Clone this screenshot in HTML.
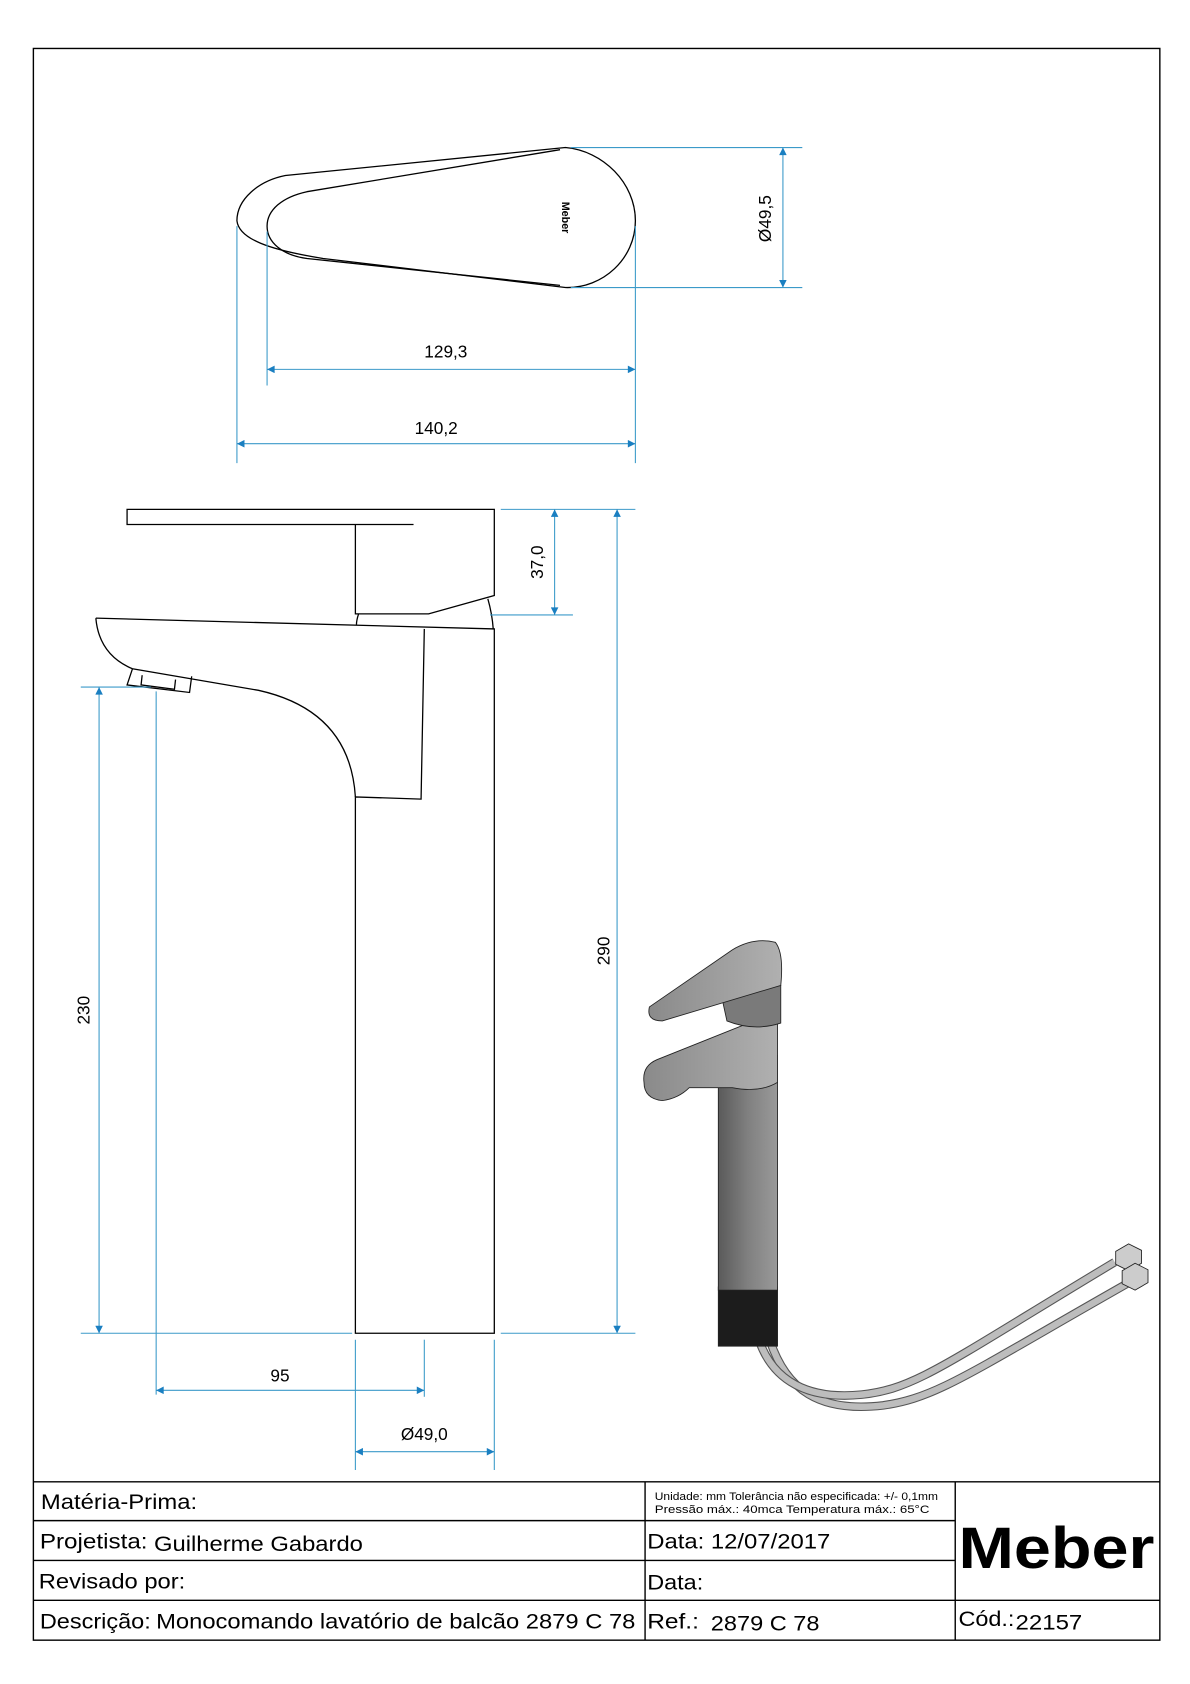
<!DOCTYPE html>
<html><head><meta charset="utf-8"><style>
html,body{margin:0;padding:0;background:#fff}
svg{display:block}
text{font-family:"Liberation Sans",Arial,sans-serif}
</style></head><body>
<svg width="1190" height="1684" viewBox="0 0 1105 1563.7" preserveAspectRatio="none" xmlns="http://www.w3.org/2000/svg">
<defs>
<marker id="a" viewBox="0 0 10 10" refX="10" refY="5" markerWidth="12" markerHeight="7" orient="auto-start-reverse" markerUnits="userSpaceOnUse"><path d="M0,0L10,5L0,10z" fill="#1a7fc1"/></marker>
<linearGradient id="g1" x1="0" x2="1"><stop offset="0" stop-color="#5a5a5a"/><stop offset=".5" stop-color="#808080"/><stop offset="1" stop-color="#9a9a9a"/></linearGradient>
<linearGradient id="g2" x1="0" x2="1"><stop offset="0" stop-color="#8a8a8a"/><stop offset="1" stop-color="#b0b0b0"/></linearGradient>
</defs>
<rect x="31" y="45" width="1046" height="1478" fill="none" stroke="#000" stroke-width="1.3"/>

<!-- top view handle -->
<g fill="none" stroke="#000" stroke-width="1.2">
<path d="M525,137 C560,140 590,170 590,205 C590,240 560,268 525,267 L300,240 C250,232 222,222 220,205 C220,185 240,168 265,163 Z"/>
<path d="M520,139 L285,178 C262,183 248,195 248,210 C248,225 262,237 285,240 L520,265"/>
</g>
<text x="522" y="202" font-size="10" font-weight="bold" transform="rotate(90 522 202)" text-anchor="middle">Meber</text>

<g stroke="#3b9ac9" stroke-width="1" fill="none">
<line x1="530" y1="137" x2="745" y2="137"/><line x1="530" y1="267" x2="745" y2="267"/>
<line x1="727" y1="137" x2="727" y2="267" marker-start="url(#a)" marker-end="url(#a)"/>
<line x1="248" y1="215" x2="248" y2="358"/><line x1="590" y1="210" x2="590" y2="430"/>
<line x1="220" y1="210" x2="220" y2="430"/>
<line x1="248" y1="343" x2="590" y2="343" marker-start="url(#a)" marker-end="url(#a)"/>
<line x1="220" y1="412" x2="590" y2="412" marker-start="url(#a)" marker-end="url(#a)"/>
</g>
<g font-size="16" fill="#000">
<text x="716" y="203" text-anchor="middle" transform="rotate(-90 716 203)">Ø49,5</text>
<text x="414" y="332" text-anchor="middle">129,3</text>
<text x="405" y="403" text-anchor="middle">140,2</text>
</g>

<!-- side view -->
<g fill="none" stroke="#000" stroke-width="1.2">
<path d="M384,487 L118,487 L118,473 L459,473 L459,553 L398,570 L330,570 L330,487"/>
<path d="M333,570 Q331,576 331,580"/><path d="M453,556 Q457,570 458,584"/>
<path d="M89,574 L459,584 L459,1238 L330,1238 L330,740 L391,742 L394,584"/>
<path d="M89,574 Q92,608 123,621 L240,641 Q325,660 330,740"/>
<path d="M123,621 L118,636 L176,643 L178,628"/>
<path d="M132,627 L131,636 L162,640 L163,631"/>
</g>
<g stroke="#3b9ac9" stroke-width="1" fill="none">
<line x1="465" y1="473" x2="590" y2="473"/><line x1="455" y1="571" x2="532" y2="571"/>
<line x1="515" y1="473" x2="515" y2="571" marker-start="url(#a)" marker-end="url(#a)"/>
<line x1="573" y1="473" x2="573" y2="1238" marker-start="url(#a)" marker-end="url(#a)"/>
<line x1="465" y1="1238" x2="590" y2="1238"/><line x1="75" y1="1238" x2="327" y2="1238"/>
<line x1="75" y1="638" x2="140" y2="638"/>
<line x1="92" y1="638" x2="92" y2="1238" marker-start="url(#a)" marker-end="url(#a)"/>
<line x1="145" y1="642" x2="145" y2="1295"/>
<line x1="394" y1="1244" x2="394" y2="1297"/>
<line x1="330" y1="1244" x2="330" y2="1365"/><line x1="459" y1="1244" x2="459" y2="1365"/>
<line x1="145" y1="1291" x2="394" y2="1291" marker-start="url(#a)" marker-end="url(#a)"/>
<line x1="330" y1="1348" x2="459" y2="1348" marker-start="url(#a)" marker-end="url(#a)"/>
</g>
<g font-size="16" fill="#000">
<text x="504" y="522" text-anchor="middle" transform="rotate(-90 504 522)">37,0</text>
<text x="566" y="883" text-anchor="middle" transform="rotate(-90 566 883)">290</text>
<text x="83" y="938" text-anchor="middle" transform="rotate(-90 83 938)">230</text>
<text x="260" y="1283" text-anchor="middle">95</text>
<text x="394" y="1337" text-anchor="middle">Ø49,0</text>
</g>

<!-- 3D render -->
<g stroke="#222" stroke-width="0.8">
<path d="M715,1245 C730,1290 760,1312 820,1305 C870,1298 900,1275 1050,1190" fill="none" stroke="#555" stroke-width="8"/>
<path d="M715,1245 C730,1290 760,1312 820,1305 C870,1298 900,1275 1050,1190" fill="none" stroke="#bdbdbd" stroke-width="6"/>
<path d="M705,1245 C718,1282 750,1300 800,1295 C850,1290 880,1265 1035,1172" fill="none" stroke="#555" stroke-width="8"/>
<path d="M705,1245 C718,1282 750,1300 800,1295 C850,1290 880,1265 1035,1172" fill="none" stroke="#bdbdbd" stroke-width="6"/>
<polygon points="1036,1162 1048,1155 1060,1161 1060,1173 1048,1180 1036,1174" fill="#ccc"/>
<polygon points="1042,1180 1054,1173 1066,1179 1066,1191 1054,1198 1042,1192" fill="#ccc"/>
<rect x="667" y="1195" width="55" height="55" fill="#1c1c1c"/>
<rect x="667" y="980" width="55" height="218" fill="url(#g1)"/>
<path d="M598,1005 Q596,990 610,984 L700,948 L722,950 L722,1005 Q705,1015 680,1010 L640,1010 Q630,1020 615,1022 Q598,1020 598,1005Z" fill="url(#g2)"/>
<path d="M670,925 L725,915 L725,950 Q700,958 675,948 Z" fill="#7a7a7a"/>
<path d="M603,935 L680,882 Q700,870 720,875 Q728,885 725,915 L615,948 Q600,948 603,935Z" fill="url(#g2)"/>
</g>

<!-- title block -->
<g stroke="#000" stroke-width="1.3" fill="none">
<line x1="31" y1="1376" x2="1077" y2="1376"/>
<line x1="31" y1="1412" x2="887" y2="1412"/>
<line x1="31" y1="1449" x2="887" y2="1449"/>
<line x1="31" y1="1486" x2="1077" y2="1486"/>
<line x1="599" y1="1376" x2="599" y2="1523"/>
<line x1="887" y1="1376" x2="887" y2="1523"/>
</g>
<g fill="#000" font-size="20">
<text x="38" y="1401" textLength="145" lengthAdjust="spacingAndGlyphs">Matéria-Prima:</text>
<text x="37" y="1438" textLength="100" lengthAdjust="spacingAndGlyphs">Projetista:</text>
<text x="143" y="1440" textLength="194" lengthAdjust="spacingAndGlyphs">Guilherme Gabardo</text>
<text x="36" y="1475" textLength="136" lengthAdjust="spacingAndGlyphs">Revisado por:</text>
<text x="37" y="1512" textLength="103" lengthAdjust="spacingAndGlyphs">Descrição:</text>
<text x="145" y="1512" textLength="445" lengthAdjust="spacingAndGlyphs">Monocomando lavatório de balcão 2879 C 78</text>
<text x="601" y="1438" textLength="170" lengthAdjust="spacingAndGlyphs">Data: 12/07/2017</text>
<text x="601" y="1476" textLength="52" lengthAdjust="spacingAndGlyphs">Data:</text>
<text x="601" y="1512" textLength="48" lengthAdjust="spacingAndGlyphs">Ref.:</text>
<text x="660" y="1514" textLength="101" lengthAdjust="spacingAndGlyphs">2879 C 78</text>
<text x="890" y="1510" textLength="52" lengthAdjust="spacingAndGlyphs">Cód.:</text>
<text x="943" y="1513" textLength="62" lengthAdjust="spacingAndGlyphs">22157</text>
<text x="608" y="1393" font-size="10" textLength="263" lengthAdjust="spacingAndGlyphs">Unidade: mm Tolerância não especificada: +/- 0,1mm</text>
<text x="608" y="1405" font-size="10" textLength="255" lengthAdjust="spacingAndGlyphs">Pressão máx.: 40mca         Temperatura máx.: 65°C</text>
<text x="890" y="1456" font-size="54" font-weight="bold" textLength="182" lengthAdjust="spacingAndGlyphs">Meber</text>
</g>
</svg>
</body></html>
